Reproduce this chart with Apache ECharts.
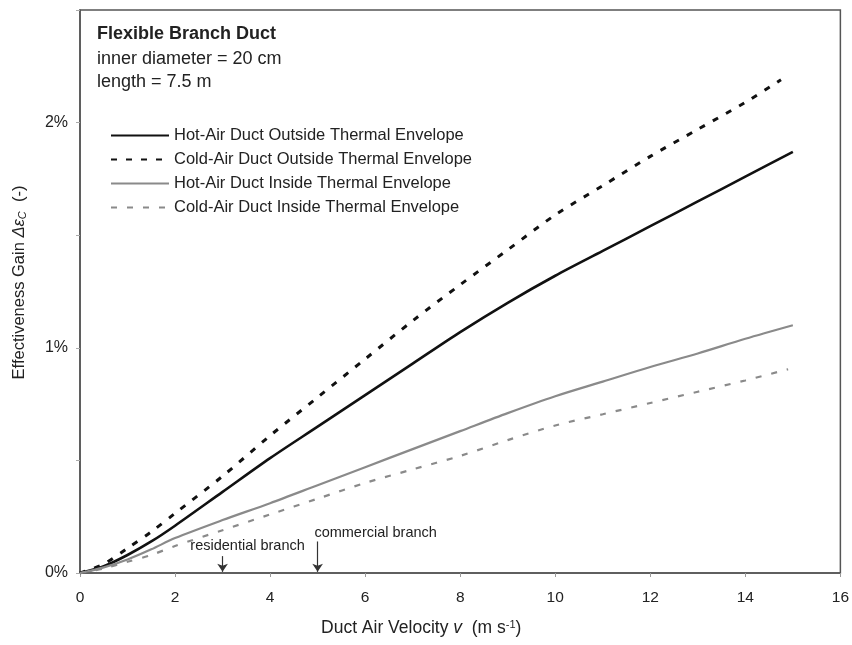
<!DOCTYPE html>
<html lang="en">
<head>
    <meta charset="UTF-8">
    <title>Flexible Branch Duct</title>
    <script src="https://cdn.jsdelivr.net/npm/echarts@6/dist/echarts.min.js"></script>
</head>
<body style="margin:0; background:#fff;">
    <div id="main" style="width: 852px; height: 645px;"></div>
    <script>
        // values, y in percent
        var velHot = [0, 0.5, 1, 1.5, 2, 3, 4, 5, 6, 7, 8, 9, 10, 11, 12, 13, 14, 15];
        var velColdOut = [0, 0.5, 1, 1.5, 2, 3, 4, 5, 6, 7, 8, 9, 10, 11, 12, 13, 14, 14.75];
        var velColdIn = [0, 0.5, 1, 1.5, 2, 3, 4, 5, 6, 7, 8, 9, 10, 11, 12, 13, 14, 14.9];

        var hotOutside = [0, 0.03, 0.08, 0.14, 0.21, 0.36, 0.51, 0.65, 0.79, 0.93, 1.07, 1.20, 1.32, 1.43, 1.54, 1.65, 1.76, 1.87];
        var coldOutside = [0, 0.04, 0.11, 0.183, 0.265, 0.43, 0.61, 0.78, 0.95, 1.12, 1.28, 1.435, 1.59, 1.72, 1.85, 1.97, 2.09, 2.19];
        var hotInside = [0, 0.025, 0.06, 0.105, 0.155, 0.235, 0.31, 0.39, 0.47, 0.55, 0.63, 0.71, 0.785, 0.85, 0.915, 0.975, 1.04, 1.10];
        var coldInside = [0, 0.02, 0.05, 0.08, 0.12, 0.19, 0.26, 0.33, 0.40, 0.46, 0.52, 0.59, 0.655, 0.705, 0.755, 0.805, 0.855, 0.905];

        var seriesNames = [
            'Hot-Air Duct Outside Thermal Envelope',
            'Cold-Air Duct Outside Thermal Envelope',
            'Hot-Air Duct Inside Thermal Envelope',
            'Cold-Air Duct Inside Thermal Envelope'
        ];

        // arrows marking typical branch velocities
        var annotX = [3, 5];
        var annotTop = [0.075, 0.14];
        var annotText = ['residential branch', 'commercial branch'];

        function pairs(xs, ys) {
            return xs.map(function (x, i) { return [x, ys[i]]; });
        }

        var font = 'Liberation Sans, Arial, sans-serif';
        var myChart = echarts.init(document.getElementById('main'));

        option = {
            backgroundColor: '#fff',
            animation: false,
            textStyle: { fontFamily: font },
            grid: {
                left: 80, top: 10, right: 9, bottom: 72,
                show: true, borderColor: '#555', borderWidth: 1.5
            },
            graphic: [
                { type: 'text', left: 97, top: 25, style: { text: 'Flexible Branch Duct', font: 'bold 18px ' + font, fill: '#222' } },
                { type: 'text', left: 97, top: 50, style: { text: 'inner diameter = 20 cm', font: '18px ' + font, fill: '#222' } },
                { type: 'text', left: 97, top: 73, style: { text: 'length = 7.5 m', font: '18px ' + font, fill: '#222' } }
            ],
            legend: {
                orient: 'vertical',
                left: 105,
                top: 122,
                itemWidth: 58,
                itemHeight: 14,
                itemGap: 7,
                itemStyle: { opacity: 0 },
                textStyle: { fontSize: 16.5, color: '#222', fontFamily: font },
                data: seriesNames
            },
            xAxis: {
                type: 'value',
                min: 0, max: 16, interval: 2,
                name: 'Duct Air Velocity {i|v}  (m s{sup|-1})',
                nameLocation: 'middle',
                nameGap: 46,
                nameTextStyle: {
                    fontSize: 17.5, color: '#222', padding: [0, 78, 0, 0],
                    rich: {
                        i: { fontStyle: 'italic', fontSize: 17.5, color: '#222' },
                        sup: { fontSize: 11, verticalAlign: 'top', padding: [0, 0, 8, 0], color: '#222' }
                    }
                },
                axisLine: { lineStyle: { color: '#555', width: 1.5 } },
                axisTick: { show: true, length: 4, lineStyle: { color: '#999' } },
                splitLine: { show: false },
                axisLabel: { fontSize: 15.5, color: '#222', margin: 17 }
            },
            yAxis: {
                type: 'value',
                min: 0, max: 2.5, interval: 0.5,
                name: 'Effectiveness Gain {i|Δε}{sub|C}  (-)',
                nameLocation: 'middle',
                nameGap: 52,
                nameTextStyle: {
                    fontSize: 16.5, color: '#222', padding: [0, 0, 0, 18],
                    rich: {
                        i: { fontStyle: 'italic', fontSize: 16.5, color: '#222' },
                        sub: { fontStyle: 'italic', fontSize: 11, color: '#222', verticalAlign: 'bottom', padding: [6, 0, 0, 0] }
                    }
                },
                axisLine: { show: true, lineStyle: { color: '#555', width: 1.5 } },
                axisTick: { show: true, length: 4, lineStyle: { color: '#aaa' } },
                splitLine: { show: false },
                axisLabel: {
                    fontSize: 16, color: '#222', margin: 12,
                    formatter: function (v) { return v % 1 === 0 ? v + '%' : ''; }
                }
            },
            series: [
                {
                    name: seriesNames[0],
                    type: 'line',
                    symbol: 'none',
                    smooth: 0.3,
                    data: pairs(velHot, hotOutside),
                    lineStyle: { color: '#111', width: 2.6 },
                    itemStyle: { color: '#111' },
                    markLine: {
                        silent: true,
                        symbol: ['none', 'arrow'],
                        symbolSize: 8,
                        label: { show: false },
                        lineStyle: { color: '#333', width: 1.2, type: 'solid' },
                        data: annotX.map(function (x, i) {
                            return [{ coord: [x, annotTop[i]] }, { coord: [x, 0.005] }];
                        })
                    },
                    markPoint: {
                        silent: true,
                        symbolSize: 0,
                        data: annotX.map(function (x, i) {
                            return {
                                coord: [x, annotTop[i]],
                                label: {
                                    show: true,
                                    position: 'top',
                                    distance: i === 0 ? 3 : 1,
                                    offset: [i === 0 ? 25 : 58, 0],
                                    formatter: annotText[i],
                                    fontSize: 14.5,
                                    color: '#222'
                                }
                            };
                        })
                    }
                },
                {
                    name: seriesNames[1],
                    type: 'line',
                    symbol: 'none',
                    smooth: 0.3,
                    data: pairs(velColdOut, coldOutside),
                    lineStyle: { color: '#111', width: 3, type: [6, 9] },
                    itemStyle: { color: '#111' }
                },
                {
                    name: seriesNames[2],
                    type: 'line',
                    symbol: 'none',
                    smooth: 0.3,
                    data: pairs(velHot, hotInside),
                    lineStyle: { color: '#8a8a8a', width: 2.2 },
                    itemStyle: { color: '#8a8a8a' }
                },
                {
                    name: seriesNames[3],
                    type: 'line',
                    symbol: 'none',
                    smooth: 0.3,
                    data: pairs(velColdIn, coldInside),
                    lineStyle: { color: '#8a8a8a', width: 2.2, type: [6, 10] },
                    itemStyle: { color: '#8a8a8a' }
                }
            ]
        };

        myChart.setOption(option);
    </script>
</body>
</html>
